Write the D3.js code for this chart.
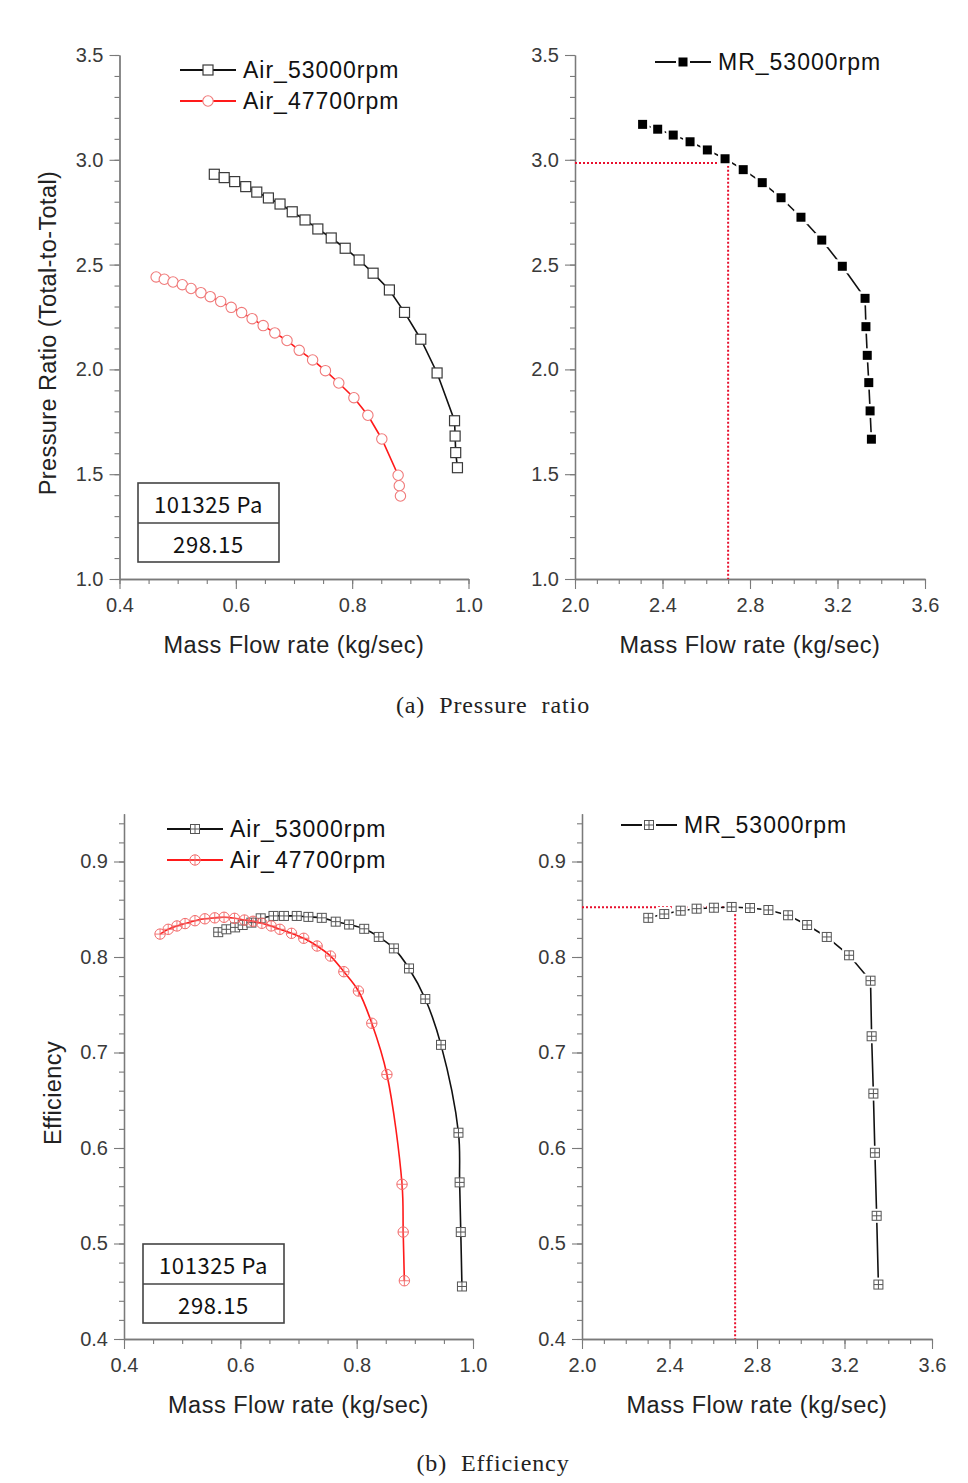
<!DOCTYPE html>
<html><head><meta charset="utf-8">
<script src="https://cdn.jsdelivr.net/npm/d3@7"></script>
<style>body{margin:0;background:#fff}</style>
</head><body>
<svg id="c" width="968" height="1483" xmlns="http://www.w3.org/2000/svg"></svg>
<script>
// ---------- DATA ----------
const prAir53Flow = [0.563,0.580,0.598,0.617,0.636,0.656,0.676,0.697,0.719,0.741,0.764,0.788,0.812,0.836,0.864,0.890,0.918,0.946,0.976,0.977,0.978,0.981];
const prAir53PR   = [2.931,2.915,2.896,2.872,2.846,2.818,2.789,2.752,2.713,2.670,2.627,2.578,2.522,2.459,2.379,2.272,2.144,1.983,1.755,1.682,1.603,1.531];
const prAir47Flow = [0.463,0.477,0.492,0.508,0.523,0.540,0.556,0.574,0.592,0.610,0.628,0.647,0.667,0.688,0.709,0.732,0.754,0.777,0.803,0.827,0.851,0.879,0.881,0.883];
const prAir47PR   = [2.441,2.430,2.417,2.404,2.386,2.366,2.347,2.324,2.296,2.271,2.242,2.209,2.174,2.138,2.091,2.045,1.994,1.935,1.865,1.781,1.668,1.495,1.445,1.396];
const prMRFlow    = [2.309,2.378,2.449,2.526,2.605,2.686,2.769,2.856,2.942,3.033,3.128,3.222,3.326,3.330,3.336,3.343,3.349,3.355];
const prMRPR      = [3.169,3.146,3.118,3.086,3.047,3.005,2.953,2.891,2.819,2.726,2.617,2.492,2.339,2.204,2.067,1.937,1.802,1.667];

const effAir53Flow = [0.562,0.576,0.591,0.604,0.619,0.635,0.657,0.675,0.697,0.717,0.740,0.764,0.787,0.813,0.838,0.864,0.890,0.918,0.945,0.975,0.977,0.979,0.981];
const effAir53Eff  = [0.826,0.829,0.831,0.8335,0.836,0.8405,0.843,0.843,0.843,0.842,0.841,0.837,0.834,0.8295,0.821,0.809,0.788,0.756,0.708,0.616,0.564,0.512,0.455];
const effAir47Flow = [0.462,0.476,0.491,0.505,0.522,0.539,0.556,0.572,0.590,0.607,0.622,0.637,0.653,0.668,0.688,0.709,0.732,0.755,0.778,0.803,0.826,0.852,0.878,0.880,0.882];
const effAir47Eff  = [0.824,0.829,0.8325,0.835,0.838,0.840,0.841,0.8416,0.8405,0.8387,0.8374,0.8353,0.8325,0.829,0.8248,0.8196,0.8115,0.801,0.7846,0.7644,0.7306,0.677,0.562,0.512,0.461];
const effMRFlow    = [2.303,2.376,2.451,2.524,2.603,2.684,2.768,2.852,2.942,3.029,3.119,3.221,3.319,3.324,3.332,3.339,3.347,3.355];
const effMREff     = [0.841,0.845,0.8485,0.8506,0.8516,0.8524,0.8513,0.8492,0.8437,0.8335,0.821,0.8018,0.7752,0.717,0.657,0.595,0.529,0.457];

const prRefPoint  = [2.70, 2.985];
const effRefPoint = [2.70, 0.852];

const prTicks     = [1.0,1.5,2.0,2.5,3.0,3.5];
const effTicks    = [0.4,0.5,0.6,0.7,0.8,0.9];
const airFlowTicks = [0.4,0.6,0.8,1.0];
const mrFlowTicks  = [2.0,2.4,2.8,3.2,3.6];

const seriesNames = ["Air_53000rpm","Air_47700rpm","MR_53000rpm"];
const boxLabels = ["101325 Pa","298.15"];
const xTitle = "Mass Flow rate (kg/sec)";
const captions = ["(a) Pressure ratio","(b) Efficiency"];

// ---------- DRAW ----------
const svg = d3.select("#c");
const SANS = "'Liberation Sans', Arial, sans-serif";
const AX = "#7a7a7a";

function marker(g, type, cx, cy) {
  const s = 9;
  if (type === "openSquare") {
    g.append("rect").attr("x",cx-5).attr("y",cy-5).attr("width",10).attr("height",10)
      .attr("fill","#fff").attr("stroke","#3a3a3a").attr("stroke-width",1.2);
  } else if (type === "openCircle") {
    g.append("circle").attr("cx",cx).attr("cy",cy).attr("r",5.2)
      .attr("fill","#fff").attr("stroke","#f07a7a").attr("stroke-width",1.1);
  } else if (type === "filledSquare") {
    g.append("rect").attr("x",cx-7).attr("y",cy-7).attr("width",14).attr("height",14).attr("fill","#fff");
    g.append("rect").attr("x",cx-4.5).attr("y",cy-4.5).attr("width",s).attr("height",s).attr("fill","#000");
  } else if (type === "crossSquare" || type === "crossSquareGap") {
    if (type === "crossSquareGap")
      g.append("rect").attr("x",cx-7).attr("y",cy-7).attr("width",14).attr("height",14).attr("fill","#fff");
    g.append("rect").attr("x",cx-4.5).attr("y",cy-4.5).attr("width",s).attr("height",s)
      .attr("fill","#fff").attr("stroke","#555").attr("stroke-width",1);
    g.append("path").attr("d",`M${cx-4.5},${cy}H${cx+4.5}M${cx},${cy-4.5}V${cy+4.5}`)
      .attr("stroke","#555").attr("stroke-width",1);
  } else if (type === "crossCircle") {
    g.append("circle").attr("cx",cx).attr("cy",cy).attr("r",5.2)
      .attr("fill","none").attr("stroke","#f26a6a").attr("stroke-width",1);
    g.append("path").attr("d",`M${cx-5.2},${cy}H${cx+5.2}M${cx},${cy-5.2}V${cy+5.2}`)
      .attr("stroke","#f26a6a").attr("stroke-width",0.9);
  }
}

function panel(o) {
  const g = svg.append("g");
  const x = d3.scaleLinear().domain(o.xd).range(o.xr);
  const y = d3.scaleLinear().domain(o.yd).range(o.yr);
  const y0 = o.yr[0], x0 = o.xr[0];

  // minor ticks
  g.append("g").attr("transform",`translate(0,${y0})`)
    .call(d3.axisBottom(x).tickValues(o.xMinor).tickSize(5).tickFormat("").tickSizeOuter(0));
  g.append("g").attr("transform",`translate(${x0},0)`)
    .call(d3.axisLeft(y).tickValues(o.yMinor).tickSize(5).tickFormat("").tickSizeOuter(0));
  // major ticks
  g.append("g").attr("transform",`translate(0,${y0})`)
    .call(d3.axisBottom(x).tickValues(o.xTicks).tickSize(10).tickPadding(9).tickFormat(d3.format(".1f")).tickSizeOuter(0));
  g.append("g").attr("transform",`translate(${x0},0)`)
    .call(d3.axisLeft(y).tickValues(o.yTicks).tickSize(10).tickPadding(6).tickFormat(d3.format(".1f")).tickSizeOuter(0));
  g.selectAll(".domain").attr("stroke",AX).attr("stroke-width",1.3);
  g.selectAll(".tick line").attr("stroke",AX).attr("stroke-width",1.1);
  g.selectAll(".tick text").attr("font-family",SANS).attr("font-size",20).attr("fill","#3a3a3a");

  // x title
  g.append("text").attr("x",(o.xr[0]+o.xr[1])/2).attr("y",y0+74)
    .attr("text-anchor","middle").attr("font-family",SANS).attr("font-size",23.5)
    .attr("letter-spacing",0.5).attr("fill","#222").text(xTitle);
  if (o.yTitle) {
    g.append("text").attr("transform",`translate(${o.yTitleX},${o.yTitleY}) rotate(-90)`)
      .attr("text-anchor","middle").attr("dominant-baseline","central")
      .attr("font-family",SANS).attr("font-size",23.5).attr("letter-spacing",0.4)
      .attr("fill","#222").text(o.yTitle);
  }

  // reference dotted lines
  if (o.ref) {
    const rx = x(o.ref[0]), ry = y(o.ref[1]);
    g.append("path").attr("d",`M${x0},${ry}H${rx}V${y0}`)
      .attr("fill","none").attr("stroke","#e8102e").attr("stroke-width",2).attr("stroke-dasharray","2,2");
  }

  // series
  o.series.forEach(s => {
    const pts = s.xs.map((v,i)=>[x(v), y(s.ys[i])]);
    const line = d3.line().curve(s.smooth ? d3.curveCatmullRom.alpha(0.5) : d3.curveLinear);
    g.append("path").attr("d",line(pts)).attr("fill","none")
      .attr("stroke",s.color).attr("stroke-width",1.6);
    const mg = g.append("g");
    pts.forEach(p => marker(mg, s.marker, p[0], p[1]));
  });

  // legend
  o.legend.forEach((l,i) => {
    const ly = l.y;
    g.append("line").attr("x1",l.x).attr("x2",l.x+56).attr("y1",ly).attr("y2",ly)
      .attr("stroke",l.color).attr("stroke-width",1.8);
    marker(g, l.marker, l.x+28, ly);
    g.append("text").attr("x",l.x+63).attr("y",ly).attr("dominant-baseline","central")
      .attr("font-family",SANS).attr("font-size",23).attr("letter-spacing",1)
      .attr("fill","#111").text(l.name);
  });

  // annotation box
  if (o.box) {
    const b = o.box;
    g.append("rect").attr("x",b.x).attr("y",b.y).attr("width",141).attr("height",79)
      .attr("fill","#fff").attr("stroke","#444").attr("stroke-width",1.6);
    g.append("line").attr("x1",b.x).attr("x2",b.x+141).attr("y1",b.y+40).attr("y2",b.y+40)
      .attr("stroke","#444").attr("stroke-width",1.4);
    boxLabels.forEach((t,i)=>{
      g.append("text").attr("x",b.x+70.5).attr("y",b.y+20+i*40).attr("text-anchor","middle")
        .attr("dominant-baseline","central").attr("font-family","'Noto Sans CJK KR','Noto Sans',sans-serif")
        .attr("font-size",22).attr("letter-spacing",0.6).attr("fill","#111").text(t);
    });
  }
}

const effYMinor = d3.range(0.40, 0.9401, 0.02);

panel({
  xd:[0.4,1.0], xr:[119.5,468.5], yd:[1.0,3.5], yr:[579,55],
  xTicks:airFlowTicks, yTicks:prTicks,
  xMinor:d3.range(0.4,1.0001,0.05), yMinor:d3.range(1.0,3.5001,0.1),
  yTitle:"Pressure Ratio (Total-to-Total)", yTitleX:48, yTitleY:333,
  series:[
    {xs:prAir53Flow, ys:prAir53PR, color:"#111", marker:"openSquare"},
    {xs:prAir47Flow, ys:prAir47PR, color:"#ff1a1a", marker:"openCircle"}
  ],
  legend:[
    {x:180, y:70, color:"#111", marker:"openSquare", name:seriesNames[0]},
    {x:180, y:101, color:"#ff1a1a", marker:"openCircle", name:seriesNames[1]}
  ],
  box:{x:138, y:483}
});

panel({
  xd:[2.0,3.6], xr:[575,925], yd:[1.0,3.5], yr:[579,55],
  xTicks:mrFlowTicks, yTicks:prTicks,
  xMinor:d3.range(2.0,3.6001,0.1), yMinor:d3.range(1.0,3.5001,0.1),
  ref:prRefPoint,
  series:[{xs:prMRFlow, ys:prMRPR, color:"#111", marker:"filledSquare"}],
  legend:[{x:655, y:62, color:"#111", marker:"filledSquare", name:seriesNames[2]}]
});

panel({
  xd:[0.4,1.0], xr:[124,473], yd:[0.4,0.95], yr:[1339,813.75],
  xTicks:airFlowTicks, yTicks:effTicks,
  xMinor:d3.range(0.4,1.0001,0.05), yMinor:effYMinor,
  yTitle:"Efficiency", yTitleX:53, yTitleY:1093,
  series:[
    {xs:effAir53Flow, ys:effAir53Eff, color:"#111", marker:"crossSquare", smooth:true},
    {xs:effAir47Flow, ys:effAir47Eff, color:"#ff1a1a", marker:"crossCircle", smooth:true}
  ],
  legend:[
    {x:167, y:829, color:"#111", marker:"crossSquare", name:seriesNames[0]},
    {x:167, y:860, color:"#ff1a1a", marker:"crossCircle", name:seriesNames[1]}
  ],
  box:{x:143, y:1244}
});

panel({
  xd:[2.0,3.6], xr:[582,932], yd:[0.4,0.95], yr:[1339,813.75],
  xTicks:mrFlowTicks, yTicks:effTicks,
  xMinor:d3.range(2.0,3.6001,0.1), yMinor:effYMinor,
  ref:effRefPoint,
  series:[{xs:effMRFlow, ys:effMREff, color:"#111", marker:"crossSquareGap"}],
  legend:[{x:621, y:825, color:"#111", marker:"crossSquareGap", name:seriesNames[2]}]
});

// captions
[[705,captions[0]],[1463,captions[1]]].forEach(([cy,t])=>{
  svg.append("text").attr("x",493).attr("y",cy).attr("text-anchor","middle")
    .attr("dominant-baseline","central").attr("font-family","'Liberation Serif','DejaVu Serif',serif")
    .attr("font-size",24).attr("letter-spacing",0.9).attr("word-spacing",7)
    .attr("fill","#222").text(t);
});
</script>
</body></html>
